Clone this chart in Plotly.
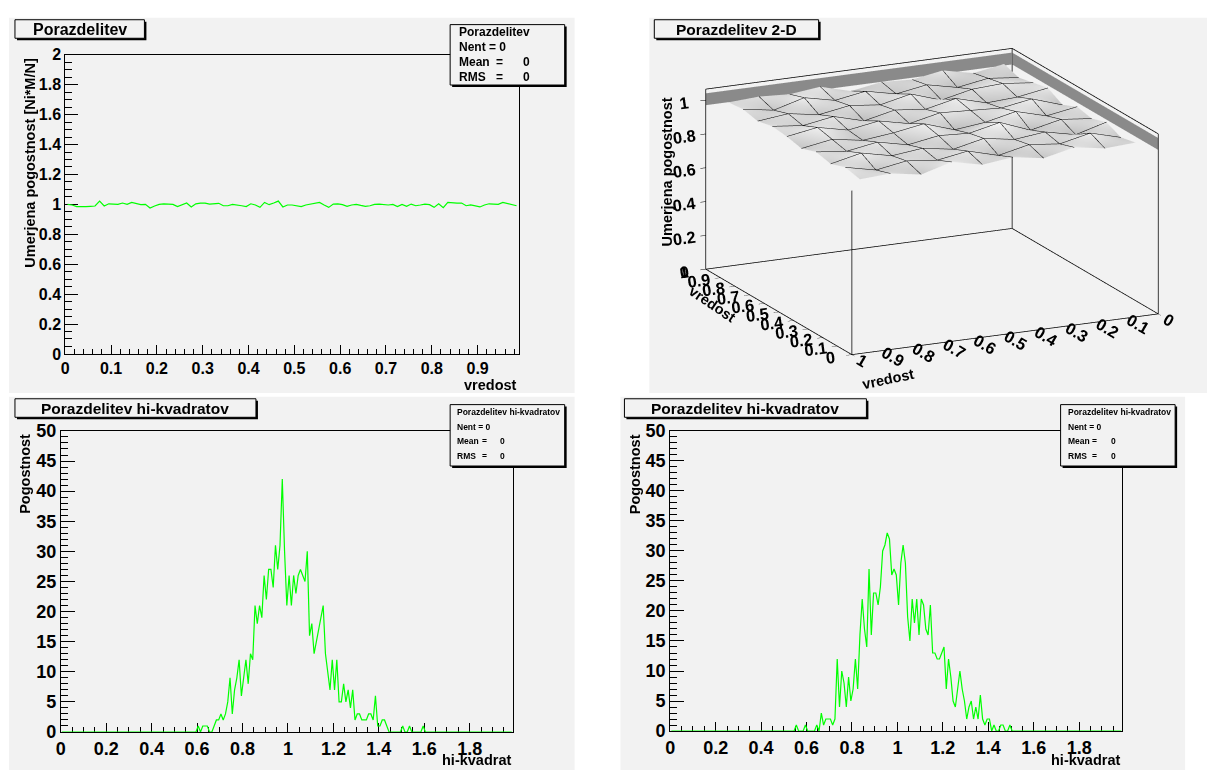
import plotly.graph_objects as go

W, H = 1207, 780

# ---------------- data ----------------
# top-left: normalised frequency, 99 bins of width 0.01 on [0, 0.99]
norm_values = [
    1.000, 0.996, 0.985, 0.983, 0.985, 0.987, 0.989, 1.022, 0.989, 1.004,
    1.004, 1.000, 1.009, 1.000, 1.013, 1.004, 0.998, 1.000, 0.976, 0.989,
    1.000, 1.004, 1.004, 1.000, 0.985, 0.996, 1.009, 0.983, 1.004, 1.009,
    1.009, 1.002, 1.004, 1.007, 0.991, 0.991, 1.000, 0.998, 0.991, 0.985,
    1.004, 0.996, 0.980, 1.013, 0.998, 1.009, 1.022, 0.983, 0.996, 0.996,
    0.991, 0.985, 0.996, 1.000, 1.004, 1.013, 0.996, 0.980, 1.002, 1.004,
    0.998, 0.987, 0.996, 1.000, 0.993, 0.987, 0.991, 1.000, 1.002, 1.000,
    0.996, 1.000, 0.985, 1.000, 0.987, 1.002, 0.991, 0.996, 1.002, 0.998,
    0.980, 1.004, 0.978, 1.013, 1.009, 1.009, 1.009, 0.991, 0.996, 0.989,
    0.983, 0.996, 1.004, 1.002, 1.000, 1.013, 1.007, 0.996, 0.991,
]
norm_bin_width = 0.01

# bottom-left: chi-square distribution, 199 bins of width 0.01 on [0, 1.99]
chi_a_first_bin = 60
chi_a_counts = [
    1, 0, 1, 1, 1, 0, 0, 1, 2, 2,
    3, 2, 3, 5, 9, 3, 7, 9, 12, 6,
    9, 12, 8, 13, 12, 21, 18, 21, 19, 26,
    22, 27, 27, 24, 31, 27, 31, 42, 30, 21,
    26, 21, 26, 23, 26, 27, 26, 25, 30, 16,
    18, 13, 15, 17, 19, 21, 13, 10, 7, 12,
    7, 12, 5, 5, 8, 5, 7, 4, 7, 2,
    3, 3, 2, 2, 2, 3, 3, 2, 6, 1,
    1, 2, 2, 1, 0, 0, 0, 0, 0, 0,
    1, 0, 0, 1, 0, 0, 0, 0, 0, 1,
]
# bottom-right: second chi-square distribution
chi_b_first_bin = 55
chi_b_counts = [
    1, 0, 0, 0, 1, 0, 0, 0, 0, 1,
    0, 3, 1, 2, 2, 2, 1, 2, 12, 4,
    10, 8, 4, 9, 5, 7, 12, 7, 16, 22,
    17, 14, 27, 16, 23, 23, 21, 24, 30, 31,
    33, 32, 26, 27, 26, 21, 28, 31, 28, 19,
    15, 22, 18, 22, 16, 22, 21, 17, 16, 21,
    13, 13, 12, 12, 13, 14, 7, 12, 9, 5,
    4, 7, 10, 7, 5, 2, 4, 5, 2, 4,
    2, 6, 2, 1, 2, 2, 0, 1, 0, 0,
    1, 1, 0, 0, 1,
]
chi_n_bins = 199
chi_bin_width = 0.01

# top-right: 2-D normalised frequency, 10 x 10 bins on [0,1] x [0,1]
surf_centers = [0.05, 0.15, 0.25, 0.35, 0.45, 0.55, 0.65, 0.75, 0.85, 0.95]
surf_z = [
    [1.00, 0.98, 1.02, 0.99, 1.01, 0.97, 1.02, 1.00, 0.98, 1.01],
    [0.99, 1.03, 0.97, 1.01, 0.98, 1.03, 0.99, 1.02, 1.00, 0.98],
    [1.02, 0.99, 1.01, 0.97, 1.03, 1.00, 0.98, 1.01, 0.97, 1.02],
    [0.98, 1.01, 0.99, 1.04, 0.99, 1.01, 1.03, 0.97, 1.01, 0.99],
    [1.01, 0.97, 1.02, 1.00, 0.97, 1.02, 0.99, 1.03, 0.98, 1.00],
    [0.99, 1.02, 0.98, 1.01, 1.03, 0.98, 1.01, 0.99, 1.02, 0.97],
    [1.03, 0.99, 1.01, 0.98, 1.00, 1.02, 0.97, 1.01, 0.99, 1.02],
    [0.98, 1.01, 0.99, 1.02, 0.98, 0.99, 1.02, 0.98, 1.03, 1.00],
    [1.01, 0.98, 1.03, 0.99, 1.01, 1.03, 0.99, 1.01, 0.98, 1.01],
    [1.00, 1.02, 0.99, 1.01, 0.98, 1.00, 1.01, 0.99, 1.01, 1.00],
]
surf_zmax = 1.065

# ---------------- styling helpers ----------------
FONT = "Liberation Sans, Arial, Helvetica, sans-serif"
PAD = "#f2f2f2"
GREEN = "#00ff00"


def fx(x):
    return x / W


def fy(y):
    return 1 - y / H


shapes = []
annotations = []


def rect(x0, y0, x1, y1, fill, line_color=None, width=1, layer="above"):
    shapes.append(dict(
        type="rect", xref="paper", yref="paper",
        x0=fx(x0), x1=fx(x1), y0=fy(y1), y1=fy(y0),
        fillcolor=fill, layer=layer,
        line=dict(color=line_color or fill, width=width if line_color else 0),
    ))


def text(x, y, s, size, xanchor="left", yanchor="middle", angle=0):
    annotations.append(dict(
        xref="paper", yref="paper", x=fx(x), y=fy(y), text=s,
        showarrow=False, xanchor=xanchor, yanchor=yanchor, textangle=angle,
        font=dict(family=FONT, size=size, color="black", weight="bold"),
    ))


def box_with_shadow(x0, y0, x1, y1, sh=2):
    rect(x0 + sh, y0 + sh, x1 + sh, y1 + sh, "#000000")
    rect(x0, y0, x1, y1, PAD, "#000000", 1)


# pads
rect(4, 8, 572, 393, PAD, layer="below")
rect(647, 8, 1207, 393, PAD, layer="below")
rect(4, 397, 572, 780, PAD, layer="below")
rect(618, 397, 1185, 780, PAD, layer="below")

fig = go.Figure()

# ---------------- top-left: 1-D normalised ----------------
fig.add_trace(go.Scatter(
    x0=norm_bin_width / 2, dx=norm_bin_width, y=norm_values,
    mode="lines", line=dict(color=GREEN, width=1.2),
    xaxis="x", yaxis="y", showlegend=False, hoverinfo="skip",
))


def chi_full(first, counts):
    full = [0] * chi_n_bins
    for k, c in enumerate(counts):
        full[first + k] = c
    return full


fig.add_trace(go.Scatter(
    x0=chi_bin_width / 2, dx=chi_bin_width,
    y=chi_full(chi_a_first_bin, chi_a_counts),
    mode="lines", line=dict(color=GREEN, width=1.2),
    xaxis="x2", yaxis="y2", showlegend=False, hoverinfo="skip", cliponaxis=False,
))
fig.add_trace(go.Scatter(
    x0=chi_bin_width / 2, dx=chi_bin_width,
    y=chi_full(chi_b_first_bin, chi_b_counts),
    mode="lines", line=dict(color=GREEN, width=1.2),
    xaxis="x3", yaxis="y3", showlegend=False, hoverinfo="skip", cliponaxis=False,
))

# ---------------- top-right: 3-D surface ----------------
flat_lighting = dict(ambient=1.0, diffuse=0.0, specular=0.0, roughness=1.0, fresnel=0.0)
fig.add_trace(go.Surface(
    x=surf_centers, y=surf_centers, z=surf_z,
    colorscale=[[0, "#bdbdbd"], [1, "#f7f7f7"]], showscale=False,
    lighting=flat_lighting,
    contours=dict(
        x=dict(show=True, start=surf_centers[0], end=surf_centers[-1],
               size=0.1, color="black", width=2, highlight=False),
        y=dict(show=True, start=surf_centers[0], end=surf_centers[-1],
               size=0.1, color="black", width=2, highlight=False),
        z=dict(highlight=False),
    ),
    hoverinfo="skip", scene="scene",
))

# striped bands on the two back walls, spanning the surface's value range
z_lo = min(min(r) for r in surf_z)
z_hi = max(max(r) for r in surf_z)
band_scale = [[0, "#8a8a8a"], [1, "#8a8a8a"]]
fig.add_trace(go.Surface(
    x=[[1, 1], [1, 1]], y=[[0, 1], [0, 1]], z=[[z_lo, z_lo], [z_hi, z_hi]],
    surfacecolor=[[0, 0], [0, 0]], colorscale=band_scale, showscale=False,
    lighting=flat_lighting, hoverinfo="skip", scene="scene",
))
fig.add_trace(go.Surface(
    x=[[0, 1], [0, 1]], y=[[0, 0], [0, 0]], z=[[z_lo, z_lo], [z_hi, z_hi]],
    surfacecolor=[[0, 0], [0, 0]], colorscale=band_scale, showscale=False,
    lighting=flat_lighting, hoverinfo="skip", scene="scene",
))

# frame edges of the 3-D box (back walls + front axes)
zt = surf_zmax
ex, ey, ez = [], [], []
for a, b in [
    ((1, 1, 0), (1, 0, 0)), ((1, 0, 0), (0, 0, 0)),
    ((1, 1, 0), (0, 1, 0)), ((0, 1, 0), (0, 0, 0)),
    ((1, 1, 0), (1, 1, zt)), ((1, 0, 0), (1, 0, zt)), ((0, 0, 0), (0, 0, zt)),
    ((0, 1, 0), (0, 1, z_lo)),
    ((1, 1, zt), (1, 0, zt)), ((1, 0, zt), (0, 0, zt)),
]:
    ex += [a[0], b[0], None]
    ey += [a[1], b[1], None]
    ez += [a[2], b[2], None]
fig.add_trace(go.Scatter3d(
    x=ex, y=ey, z=ez, mode="lines", line=dict(color="black", width=1.5),
    hoverinfo="skip", showlegend=False, scene="scene",
))

# ---------------- 2-D axes ----------------
def axis_common(size):
    return dict(
        showgrid=False, zeroline=False, showline=True, mirror=True,
        linecolor="black", linewidth=1, ticks="inside", tickcolor="black",
        tickfont=dict(family=FONT, size=size, color="black", weight="bold"),
        layer="below traces",
    )


tl_x = [60.5, 516]
tl_y = [46, 353]
bl_x = [56, 510]
bl_y = [432, 741]
br_x = [668, 1122]
br_y = [432, 740]

lay = dict(
    xaxis=dict(domain=[fx(tl_x[0]), fx(tl_x[1])], range=[0, 0.99], dtick=0.1, tick0=0,
               ticklen=9, minor=dict(ticks="inside", ticklen=5, dtick=0.02, tickcolor="black"),
               anchor="y", **axis_common(16)),
    yaxis=dict(domain=[fy(tl_y[1]), fy(tl_y[0])], range=[0, 2], dtick=0.2, tick0=0,
               ticklen=13, minor=dict(ticks="inside", ticklen=7, dtick=0.05, tickcolor="black"),
               anchor="x", **axis_common(16)),
    xaxis2=dict(domain=[fx(bl_x[0]), fx(bl_x[1])], range=[0, 1.99], dtick=0.2, tick0=0,
                ticklen=9, minor=dict(ticks="inside", ticklen=5, dtick=0.05, tickcolor="black"),
                anchor="y2", **axis_common(18)),
    yaxis2=dict(domain=[fy(bl_y[1]), fy(bl_y[0])], range=[0, 50], dtick=5, tick0=0,
                ticklen=14, minor=dict(ticks="inside", ticklen=7, dtick=1, tickcolor="black"),
                anchor="x2", **axis_common(18)),
    xaxis3=dict(domain=[fx(br_x[0]), fx(br_x[1])], range=[0, 1.99], dtick=0.2, tick0=0,
                ticklen=9, minor=dict(ticks="inside", ticklen=5, dtick=0.05, tickcolor="black"),
                anchor="y3", **axis_common(18)),
    yaxis3=dict(domain=[fy(br_y[1]), fy(br_y[0])], range=[0, 50], dtick=5, tick0=0,
                ticklen=14, minor=dict(ticks="inside", ticklen=7, dtick=1, tickcolor="black"),
                anchor="x3", **axis_common(18)),
)

# ---------------- 3-D scene ----------------
def ax3(rng, dtick):
    return dict(
        range=rng, dtick=dtick, tick0=0, autorange=False,
        showgrid=False, zeroline=False, showbackground=False, showspikes=False,
        showline=False, ticks="outside", ticklen=6, tickcolor="black",
        tickfont=dict(family=FONT, size=14, color="black", weight="bold"),
        title=dict(text=""),
    )


view_dir = (-0.8668, 0.4134, 0.2790)
aspect = dict(x=1.81, y=1.81, z=1.0)
scene = dict(
    domain=dict(x=[fx(655), 1.0], y=[fy(389), fy(4)]),
    bgcolor="rgba(0,0,0,0)",
    aspectmode="manual", aspectratio=aspect,
    camera=dict(
        eye=dict(x=view_dir[0] * 2, y=view_dir[1] * 2, z=view_dir[2] * 2),
        up=dict(x=0, y=0, z=1), center=dict(x=0, y=0, z=0),
        projection=dict(type="orthographic"),
    ),
    xaxis=ax3([0, 1], 0.1),
    yaxis=ax3([0, 1], 0.1),
    zaxis=ax3([0, surf_zmax], 0.2),
)

# ---------------- titles, stat boxes, axis titles ----------------
box_with_shadow(10, 10, 140, 29)
text(75, 19.5, "Porazdelitev", 16, "center")
box_with_shadow(652, 10, 817, 29)
text(734.5, 19.5, "Porazdelitev 2-D", 15.5, "center")
box_with_shadow(10, 399, 252, 418)
text(131, 408.5, "Porazdelitev hi-kvadratov", 15.5, "center")
box_with_shadow(622, 399, 865, 418)
text(743.5, 408.5, "Porazdelitev hi-kvadratov", 15.5, "center")

# stat box top-left
box_with_shadow(447, 15, 562, 77)
text(454, 23, "Porazdelitev", 12)
text(454, 38, "Nent = 0", 12)
text(454, 53, "Mean", 12)
text(497, 53, "=", 12, "center")
text(524, 53, "0", 12, "center")
text(454, 68.5, "RMS", 12)
text(497, 68.5, "=", 12, "center")
text(524, 68.5, "0", 12, "center")

# stat boxes bottom
for bx in (447, 1060):
    box_with_shadow(bx, 405, bx + 115, 468)
    text(bx + 5, 413, "Porazdelitev hi-kvadratov", 8.5)
    text(bx + 5, 427.5, "Nent = 0", 8.5)
    text(bx + 5, 442.5, "Mean", 8.5)
    text(bx + 34, 442.5, "=", 8.5, "center")
    text(bx + 53, 442.5, "0", 8.5, "center")
    text(bx + 5, 457.5, "RMS", 8.5)
    text(bx + 34, 457.5, "=", 8.5, "center")
    text(bx + 53, 457.5, "0", 8.5, "center")

# axis titles
text(25, 47, "Umerjena pogostnost [Ni*M/N]", 14.5, "center", "top", -90)
text(516, 385, "vredost", 14.5, "right")
text(20, 433, "Pogostnost", 14.5, "center", "top", -90)
text(510, 770, "hi-kvadrat", 14.5, "right")
text(633, 433, "Pogostnost", 14.5, "center", "top", -90)
text(1122, 770, "hi-kvadrat", 14.5, "right")
# 3-D axis titles
text(665, 88, "Umerjena pogostnost", 14.5, "center", "top", -90)
text(710, 302, "vredost", 14.5, "center", "middle", 34)
text(887, 379, "vredost", 14.5, "center", "middle", -12)

fig.update_layout(
    width=W, height=H, autosize=False,
    margin=dict(l=0, r=0, t=0, b=0, pad=0),
    paper_bgcolor="white", plot_bgcolor="rgba(0,0,0,0)",
    showlegend=False, scene=scene, shapes=shapes, annotations=annotations,
    **lay,
)

fig.write_html("out.html")
